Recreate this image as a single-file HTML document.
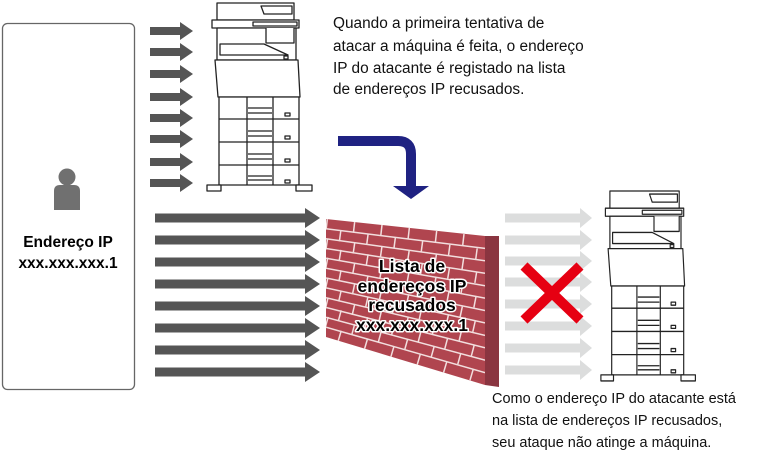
<!DOCTYPE html>
<html><head><meta charset="utf-8"><style>
html,body{margin:0;padding:0;background:#fff;}
svg{display:block;}
text{font-family:"Liberation Sans",Arial,sans-serif;}
</style></head><body>
<svg width="757" height="450" viewBox="0 0 757 450" xmlns="http://www.w3.org/2000/svg">
<defs>
<g id="printer" fill="#fff" stroke="#222" stroke-width="1.3" stroke-linejoin="round">
  <path d="M11,3 L88,3 L88,20 L11,20 Z"/>
  <path d="M55,6 L86,6 L86,14 L58,14 Z"/>
  <path d="M6,20 L93,20 L93,28 L6,28 Z"/>
  <path d="M47,22 L91,22 L91,26 L47,26 Z"/>
  <path d="M11,28 L90,28 L90,60 L11,60 Z"/>
  <path d="M60,28 L60,43 L88,43 L88,28"/>
  <path d="M14,44 L58,44 L82,55 L14,55 Z"/>
  <rect x="78" y="56" width="4" height="3"/>
  <path d="M9,60 L92,60 L94,97 L12,97 Z"/>
  <rect x="13" y="97" width="80" height="88"/>
  <line x1="13" y1="119" x2="93" y2="119"/>
  <line x1="13" y1="142" x2="93" y2="142"/>
  <line x1="13" y1="165" x2="93" y2="165"/>
  <line x1="41" y1="97" x2="41" y2="185"/>
  <line x1="67" y1="97" x2="67" y2="185"/>
  <line x1="42" y1="108" x2="66" y2="108"/><line x1="42" y1="113" x2="66" y2="113"/>
  <line x1="42" y1="131" x2="66" y2="131"/><line x1="42" y1="136" x2="66" y2="136"/>
  <line x1="42" y1="154" x2="66" y2="154"/><line x1="42" y1="159" x2="66" y2="159"/>
  <line x1="42" y1="176" x2="66" y2="176"/><line x1="42" y1="180" x2="66" y2="180"/>
  <rect x="79" y="113" width="5" height="3"/><rect x="79" y="136" width="5" height="3"/>
  <rect x="79" y="159" width="5" height="3"/><rect x="79" y="180" width="5" height="3"/>
  <path d="M1,185 L15,185 L15,191 L1,191 Z"/>
  <path d="M90,185 L106,185 L106,191 L90,191 Z"/>
</g>
<g id="ua"><rect x="0" y="-4" width="31" height="8"/><polygon points="30,-9 43,0 30,9"/></g>
<g id="la"><rect x="0" y="-4.5" width="151" height="9"/><polygon points="150,-10 165,0 150,10"/></g>
<g id="ga"><rect x="0" y="-4.5" width="76" height="9"/><polygon points="75,-10 87,0 75,10"/></g>
<clipPath id="wc"><polygon points="326,219 485,236 485,385 326,337"/></clipPath>
</defs>

<rect x="2.5" y="23.5" width="132" height="366" rx="5" fill="#fff" stroke="#666" stroke-width="1.3"/>
<circle cx="67" cy="177" r="8.5" fill="#707070"/>
<path d="M54,210 L54,191 Q54,185 60,185 L74,185 Q80,185 80,191 L80,210 Z" fill="#707070"/>
<text x="68" y="247" font-size="15.5" font-weight="bold" text-anchor="middle" fill="#000">Endereço IP</text>
<text x="68" y="268" font-size="15.5" font-weight="bold" text-anchor="middle" fill="#000">xxx.xxx.xxx.1</text>

<g fill="#555">
<use href="#ua" x="150" y="31"/><use href="#ua" x="150" y="52"/><use href="#ua" x="150" y="74"/><use href="#ua" x="150" y="97"/>
<use href="#ua" x="150" y="118"/><use href="#ua" x="150" y="139"/><use href="#ua" x="150" y="162"/><use href="#ua" x="150" y="183"/>
</g>
<use href="#printer" x="206" y="0"/>

<g font-size="15.4" fill="#111">
<text x="333" y="28">Quando a primeira tentativa de</text>
<text x="333" y="51">atacar a máquina é feita, o endereço</text>
<text x="333" y="73">IP do atacante é registado na lista</text>
<text x="333" y="94">de endereços IP recusados.</text>
</g>

<path d="M338,141 L398,141 Q411,141 411,154 L411,188" fill="none" stroke="#1f2282" stroke-width="10"/>
<polygon points="393,186 429,186 411,199" fill="#1f2282"/>

<g fill="#555">
<use href="#la" x="155" y="218"/><use href="#la" x="155" y="240"/><use href="#la" x="155" y="262"/><use href="#la" x="155" y="284"/>
<use href="#la" x="155" y="306"/><use href="#la" x="155" y="328"/><use href="#la" x="155" y="350"/><use href="#la" x="155" y="372"/>
</g>

<polygon points="326,219 485,236 485,385 326,337" fill="#b0454f"/>
<polygon points="485,236 499,236 499,387 485,385" fill="#8a3540"/>
<g clip-path="url(#wc)">
<g stroke="#f2dede" stroke-width="1.5" fill="none">
<line x1="326" y1="228.8" x2="485" y2="248.4"/>
<line x1="326" y1="238.7" x2="485" y2="260.8"/>
<line x1="326" y1="248.5" x2="485" y2="273.3"/>
<line x1="326" y1="258.3" x2="485" y2="285.7"/>
<line x1="326" y1="268.2" x2="485" y2="298.1"/>
<line x1="326" y1="278" x2="485" y2="310.5"/>
<line x1="326" y1="287.8" x2="485" y2="322.9"/>
<line x1="326" y1="297.7" x2="485" y2="335.4"/>
<line x1="326" y1="307.5" x2="485" y2="347.8"/>
<line x1="326" y1="317.3" x2="485" y2="360.2"/>
<line x1="326" y1="327.2" x2="485" y2="372.6"/>
</g>
<g stroke="#f2dede" stroke-width="11" fill="none" stroke-dasharray="1.5 26">
<line x1="326" y1="224" x2="485" y2="242" stroke-dashoffset="0"/>
<line x1="326" y1="234" x2="485" y2="255" stroke-dashoffset="14"/>
<line x1="326" y1="244" x2="485" y2="267" stroke-dashoffset="0"/>
<line x1="326" y1="253" x2="485" y2="279" stroke-dashoffset="14"/>
<line x1="326" y1="263" x2="485" y2="292" stroke-dashoffset="0"/>
<line x1="326" y1="273" x2="485" y2="304" stroke-dashoffset="14"/>
<line x1="326" y1="283" x2="485" y2="317" stroke-dashoffset="0"/>
<line x1="326" y1="293" x2="485" y2="329" stroke-dashoffset="14"/>
<line x1="326" y1="303" x2="485" y2="341" stroke-dashoffset="0"/>
<line x1="326" y1="312" x2="485" y2="354" stroke-dashoffset="14"/>
<line x1="326" y1="322" x2="485" y2="366" stroke-dashoffset="0"/>
<line x1="326" y1="332" x2="485" y2="379" stroke-dashoffset="14"/>
</g>
</g>
<g font-size="17.5" font-weight="bold" text-anchor="middle" fill="#000" stroke="#fff" stroke-width="3" paint-order="stroke" stroke-linejoin="round">
<text x="412" y="272">Lista de</text>
<text x="412" y="292">endereços IP</text>
<text x="412" y="311">recusados</text>
<text x="412" y="331">xxx.xxx.xxx.1</text>
</g>

<g fill="#dcdddd">
<use href="#ga" x="505" y="218"/><use href="#ga" x="505" y="240"/><use href="#ga" x="505" y="261"/><use href="#ga" x="505" y="282"/>
<use href="#ga" x="505" y="304"/><use href="#ga" x="505" y="326"/><use href="#ga" x="505" y="348"/><use href="#ga" x="505" y="370"/>
</g>
<g stroke="#e60012" stroke-width="10">
<line x1="524" y1="266" x2="580" y2="320"/>
<line x1="580" y1="266" x2="524" y2="320"/>
</g>

<use href="#printer" transform="translate(600,188) scale(0.9,1.01)"/>

<g font-size="14.5" fill="#111">
<text x="492" y="403">Como o endereço IP do atacante está</text>
<text x="492" y="425">na lista de endereços IP recusados,</text>
<text x="492" y="447">seu ataque não atinge a máquina.</text>
</g>
</svg>
</body></html>
